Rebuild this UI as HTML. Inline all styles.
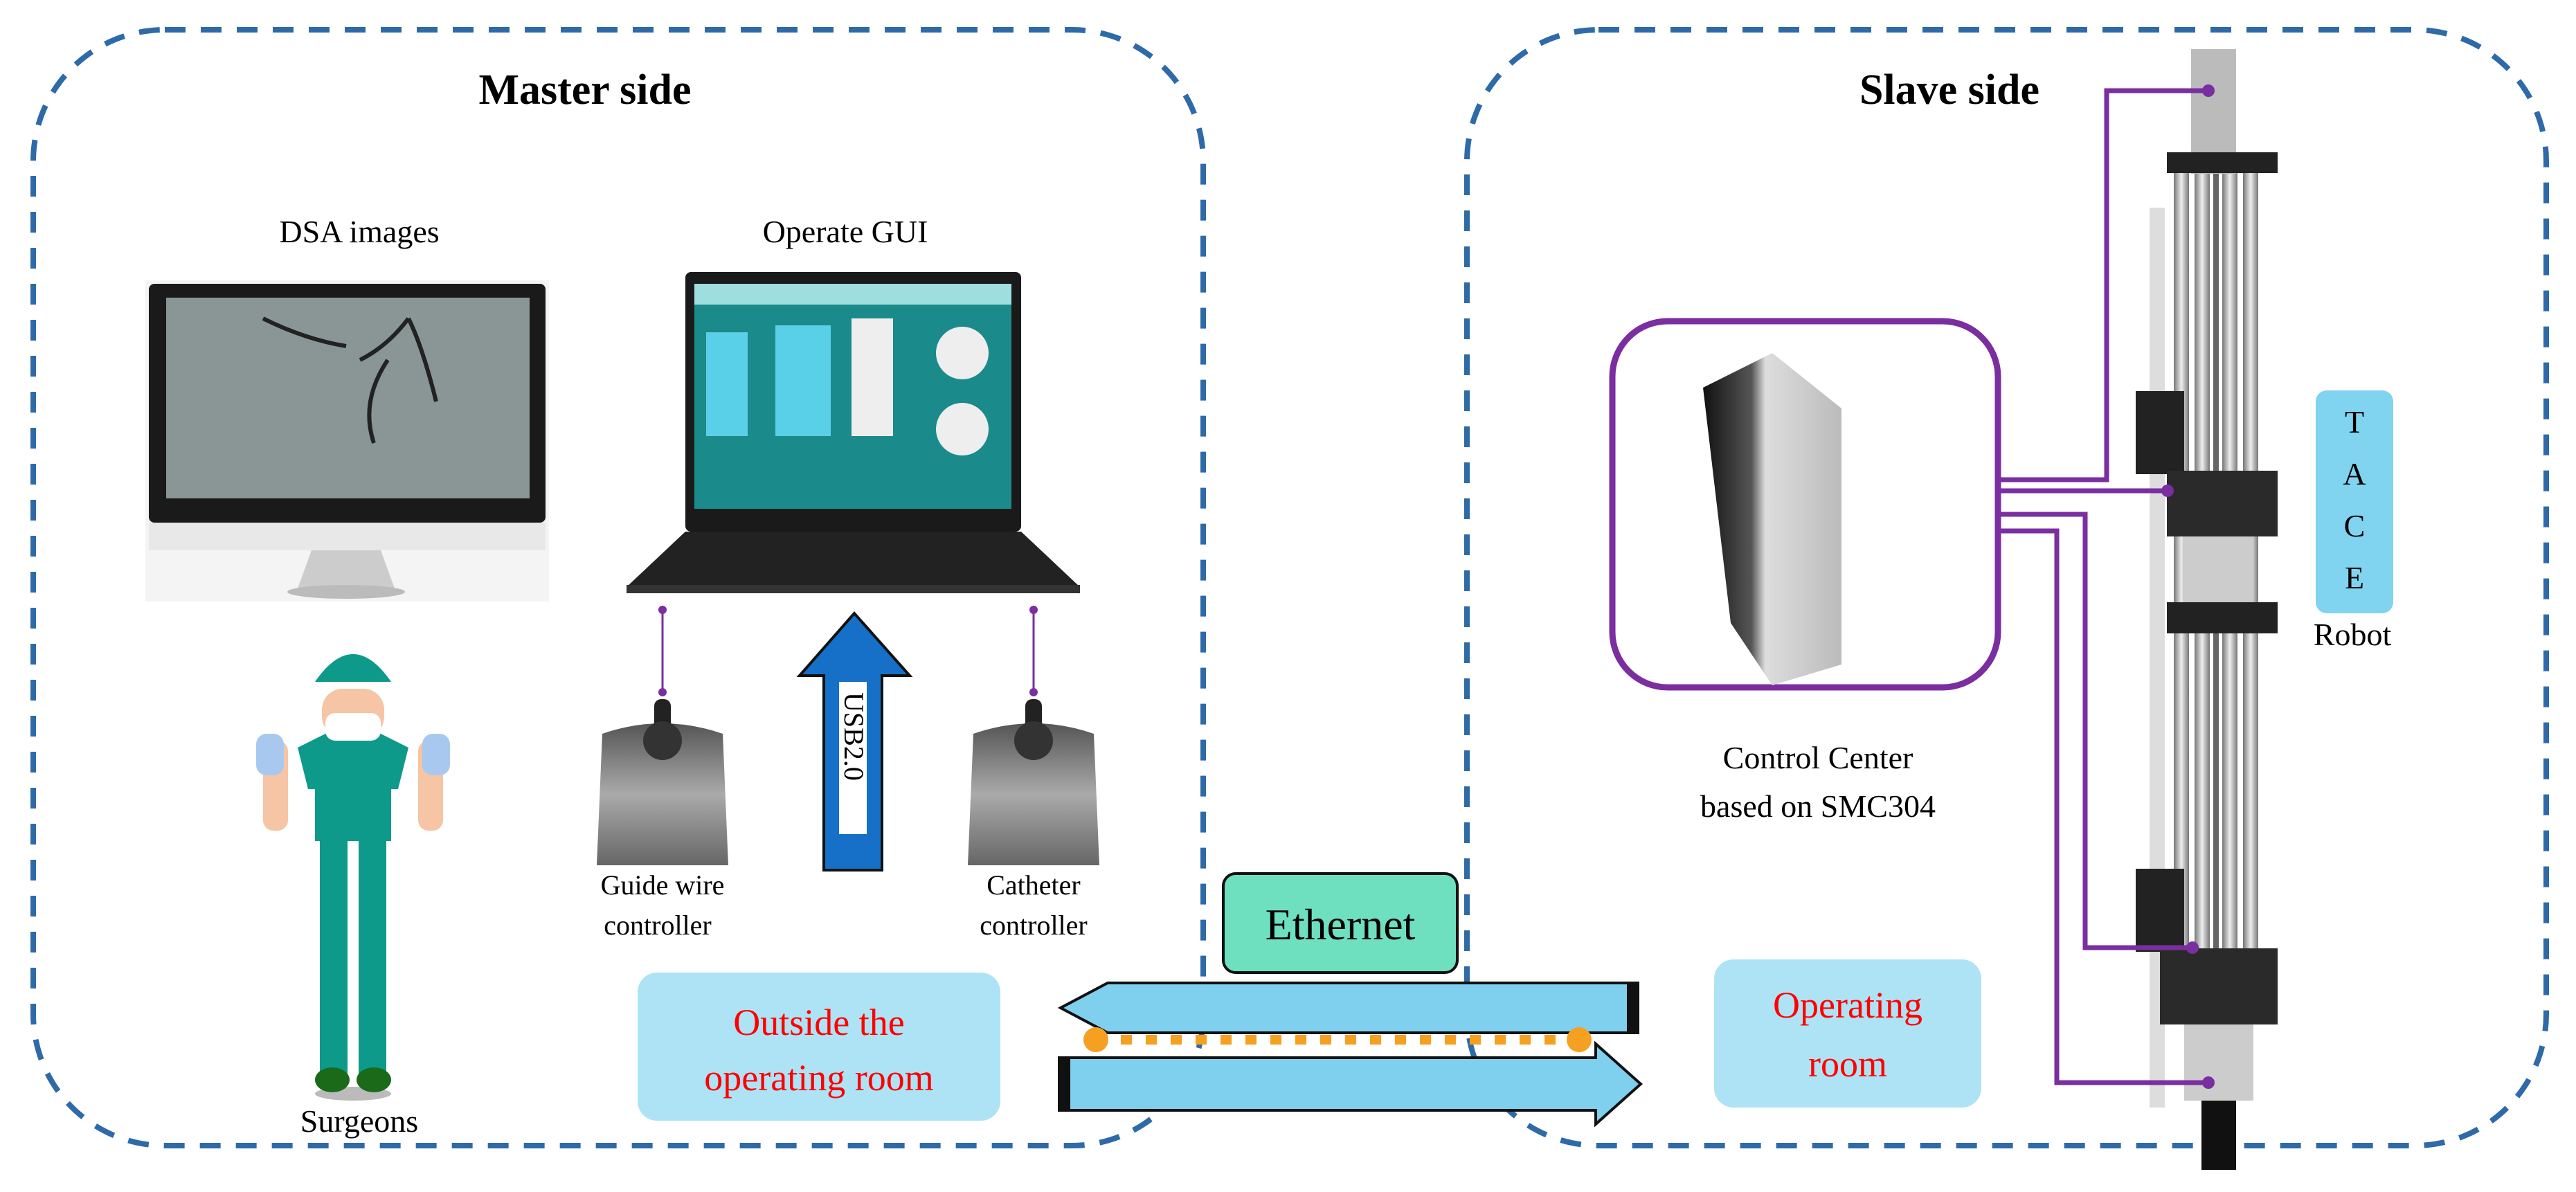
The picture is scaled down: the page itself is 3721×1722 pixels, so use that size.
<!DOCTYPE html>
<html><head><meta charset="utf-8"><style>
html,body{margin:0;padding:0;background:#fff}
svg{display:block}
text{font-family:"Liberation Serif",serif}
</style></head><body>
<svg width="3721" height="1722" viewBox="0 0 3721 1722" xmlns="http://www.w3.org/2000/svg">
<defs>
<marker id="pd" viewBox="0 0 10 10" refX="5" refY="5" markerWidth="4" markerHeight="4"><circle cx="5" cy="5" r="5" fill="#7a2ea0"/></marker>
<linearGradient id="rail" x1="0" x2="1"><stop offset="0" stop-color="#777"/><stop offset=".5" stop-color="#eee"/><stop offset="1" stop-color="#777"/></linearGradient>
<linearGradient id="pc" x1="0" x2="1"><stop offset="0" stop-color="#111"/><stop offset=".35" stop-color="#555"/><stop offset=".45" stop-color="#ddd"/><stop offset="1" stop-color="#bbb"/></linearGradient>
<linearGradient id="joy" x1="0" y1="0" x2="0" y2="1"><stop offset="0" stop-color="#555"/><stop offset=".5" stop-color="#aaa"/><stop offset="1" stop-color="#666"/></linearGradient>
</defs>
<rect x="48" y="43" width="1690" height="1612" rx="190" fill="none" stroke="#2e6aa8" stroke-width="8" stroke-dasharray="30 22"/>
<rect x="2119" y="43" width="1559" height="1612" rx="190" fill="none" stroke="#2e6aa8" stroke-width="8" stroke-dasharray="30 22"/>
<text x="845" y="150" font-size="62" font-weight="bold" text-anchor="middle">Master side</text>
<text x="2816" y="150" font-size="62" font-weight="bold" text-anchor="middle">Slave side</text>
<text x="519" y="350" font-size="46" text-anchor="middle">DSA images</text>
<text x="1221" y="350" font-size="46" text-anchor="middle">Operate GUI</text>
<rect x="210" y="405" width="583" height="464" fill="#f4f4f4"/>
<rect x="215" y="410" width="573" height="345" rx="8" fill="#1a1a1a"/>
<rect x="240" y="430" width="525" height="290" fill="#8a9696"/>
<path d="M520 520 q40 -20 70 -60 M590 460 q20 40 40 120 M560 520 q-40 60 -20 120 M500 500 q-60 -10 -120 -40" stroke="#222" stroke-width="6" fill="none"/>
<rect x="215" y="755" width="573" height="40" fill="#e8e8e8"/>
<path d="M450 795 h100 l20 55 h-140z" fill="#ccc"/>
<ellipse cx="500" cy="855" rx="85" ry="10" fill="#bbb"/>
<rect x="990" y="393" width="485" height="375" rx="8" fill="#1a1a1a"/>
<rect x="1003" y="410" width="458" height="325" fill="#1a8a8a"/>
<rect x="1003" y="410" width="458" height="30" fill="#9fdede"/>
<g fill="#5ad0e8"><rect x="1020" y="480" width="60" height="150"/><rect x="1120" y="470" width="80" height="160"/></g>
<g fill="#eee"><rect x="1230" y="460" width="60" height="170"/><circle cx="1390" cy="510" r="38"/><circle cx="1390" cy="620" r="38"/></g>
<path d="M990 768 h485 l85 80 h-655z" fill="#222"/>
<rect x="905" y="845" width="655" height="12" fill="#333"/>
<!-- surgeon -->
<ellipse cx="510" cy="1580" rx="55" ry="10" fill="#bbb"/>
<rect x="462" y="1200" width="40" height="360" fill="#0e9a8a"/>
<rect x="518" y="1200" width="40" height="360" fill="#0e9a8a"/>
<path d="M430 1080 l50 -25 h60 l50 25 l-15 60 h-10 v75 h-110 v-75 h-10z" fill="#0e9a8a"/>
<rect x="465" y="995" width="90" height="70" rx="30" fill="#f5c5a5"/>
<path d="M455 985 q55 -80 110 0 z" fill="#0e9a8a"/>
<rect x="470" y="1030" width="80" height="40" rx="14" fill="#fff"/>
<rect x="380" y="1070" width="36" height="130" rx="15" fill="#f5c5a5"/>
<rect x="604" y="1070" width="36" height="130" rx="15" fill="#f5c5a5"/>
<rect x="370" y="1060" width="40" height="60" rx="15" fill="#a8c8f0"/>
<rect x="610" y="1060" width="40" height="60" rx="15" fill="#a8c8f0"/>
<ellipse cx="480" cy="1560" rx="25" ry="18" fill="#1a6a1a"/><ellipse cx="540" cy="1560" rx="25" ry="18" fill="#1a6a1a"/>
<text x="519" y="1635" font-size="46" text-anchor="middle">Surgeons</text>
<line x1="957" y1="881" x2="957" y2="1000" stroke="#7a2ea0" stroke-width="3" marker-start="url(#pd)" marker-end="url(#pd)"/>
<line x1="1493" y1="881" x2="1493" y2="1000" stroke="#7a2ea0" stroke-width="3" marker-start="url(#pd)" marker-end="url(#pd)"/>
<path d="M870 1060 q87 -30 174 0 l8 190 h-190z" fill="url(#joy)"/>
<rect x="945" y="1010" width="24" height="60" rx="10" fill="#222"/><circle cx="957" cy="1070" r="28" fill="#333"/>
<path d="M1406 1060 q87 -30 174 0 l8 190 h-190z" fill="url(#joy)"/>
<rect x="1481" y="1010" width="24" height="60" rx="10" fill="#222"/><circle cx="1493" cy="1070" r="28" fill="#333"/>
<text x="957" y="1292" font-size="40" text-anchor="middle">Guide wire</text>
<text x="950" y="1350" font-size="40" text-anchor="middle">controller</text>
<text x="1493" y="1292" font-size="40" text-anchor="middle">Catheter</text>
<text x="1493" y="1350" font-size="40" text-anchor="middle">controller</text>
<path d="M1190 1257 V976 H1155 L1234 886 L1314 976 H1274 V1257 Z" fill="#1670c8" stroke="#111" stroke-width="4"/>
<rect x="1212" y="985" width="40" height="220" fill="#fff"/>
<text transform="translate(1220,1000) rotate(90)" font-size="40">USB2.0</text>
<rect x="1767" y="1262" width="338" height="143" rx="18" fill="#6ee0c0" stroke="#111" stroke-width="4"/>
<text x="1936" y="1357" font-size="64" text-anchor="middle">Ethernet</text>
<rect x="921" y="1405" width="524" height="214" rx="28" fill="#aee3f5"/>
<text x="1183" y="1495" font-size="54" fill="#f00" text-anchor="middle">Outside the</text>
<text x="1183" y="1575" font-size="54" fill="#f00" text-anchor="middle">operating room</text>
<path d="M2366 1420 V1492 H1600 L1532 1456 L1600 1420Z" fill="#7ed0ee" stroke="#111" stroke-width="4"/>
<rect x="2350" y="1420" width="16" height="72" fill="#111"/>
<path d="M1530 1528 H2305 V1508 L2370 1566 L2305 1624 V1604 H1530Z" fill="#7ed0ee" stroke="#111" stroke-width="4"/>
<rect x="1530" y="1528" width="16" height="76" fill="#111"/>
<line x1="1583" y1="1502" x2="2281" y2="1502" stroke="#f5a020" stroke-width="14" stroke-dasharray="16 20"/>
<circle cx="1583" cy="1502" r="18" fill="#f5a020"/><circle cx="2281" cy="1502" r="18" fill="#f5a020"/>
<rect x="2476" y="1386" width="386" height="214" rx="28" fill="#aee3f5"/>
<text x="2669" y="1470" font-size="54" fill="#f00" text-anchor="middle">Operating</text>
<text x="2669" y="1555" font-size="54" fill="#f00" text-anchor="middle">room</text>
<rect x="2329" y="464" width="557" height="529" rx="80" fill="#fff" stroke="#7a2ea0" stroke-width="9"/>
<path d="M2460 560 L2560 510 L2660 590 L2660 960 L2560 990 L2500 900 Z" fill="url(#pc)"/>
<text x="2626" y="1110" font-size="46" text-anchor="middle">Control Center</text>
<text x="2626" y="1180" font-size="46" text-anchor="middle">based on SMC304</text>
<!-- robot -->
<rect x="3105" y="300" width="22" height="1300" fill="#ddd"/>
<g fill="url(#rail)">
<rect x="3140" y="240" width="22" height="1180"/><rect x="3170" y="240" width="22" height="1180"/>
<rect x="3210" y="240" width="22" height="1180"/><rect x="3240" y="240" width="22" height="1180"/>
</g>
<rect x="3197" y="90" width="8" height="1420" fill="#666"/>
<rect x="3165" y="71" width="65" height="180" fill="#bbb"/>
<rect x="3130" y="220" width="160" height="30" fill="#222"/>
<rect x="3085" y="565" width="70" height="120" fill="#222"/>
<rect x="3130" y="680" width="160" height="95" fill="#2a2a2a"/>
<rect x="3155" y="775" width="100" height="100" fill="#ccc"/>
<rect x="3130" y="870" width="160" height="45" fill="#222"/>
<rect x="3085" y="1255" width="70" height="120" fill="#222"/>
<rect x="3120" y="1370" width="170" height="110" fill="#2a2a2a"/>
<rect x="3155" y="1480" width="100" height="110" fill="#ccc"/>
<rect x="3180" y="1590" width="50" height="100" fill="#111"/>
<g fill="none" stroke="#7a2ea0" stroke-width="7">
<path d="M2886 693 H3043 V131 H3190"/>
<path d="M2886 709 H3131"/>
<path d="M2886 743 H3012 V1369 H3167"/>
<path d="M2886 767 H2971 V1564 H3190"/>
</g>
<g fill="#7a2ea0"><circle cx="3190" cy="131" r="9"/><circle cx="3131" cy="709" r="9"/><circle cx="3167" cy="1369" r="9"/><circle cx="3190" cy="1564" r="9"/></g>
<rect x="3345" y="564" width="112" height="322" rx="16" fill="#80d4f0"/>
<g font-size="46" text-anchor="middle"><text x="3401" y="625">T</text><text x="3401" y="700">A</text><text x="3401" y="775">C</text><text x="3401" y="850">E</text></g>
<text x="3398" y="932" font-size="46" text-anchor="middle">Robot</text>
</svg>
</body></html>
